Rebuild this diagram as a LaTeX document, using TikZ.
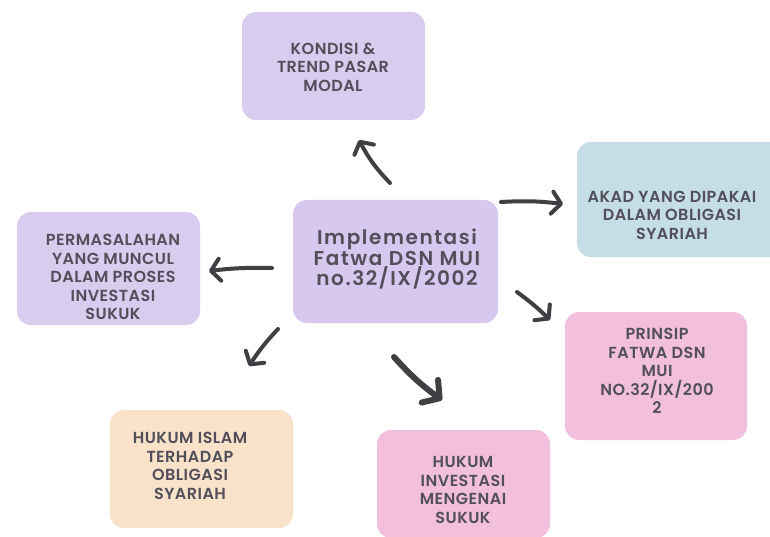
\documentclass[tikz,border=0pt]{standalone}
\usepackage{fontspec}
\setmainfont{Poppins}[UprightFont=* SemiBold, LetterSpace=3]
\newfontfamily\ctrfont{Poppins}[UprightFont=* SemiBold, LetterSpace=8]
\usetikzlibrary{arrows.meta}
\definecolor{lav}{HTML}{D8CCEF}
\definecolor{lavc}{HTML}{D6C8EE}
\definecolor{skyb}{HTML}{C4DDE6}
\definecolor{pinkb}{HTML}{F2BFDC}
\definecolor{peach}{HTML}{F9E2CA}
\definecolor{ink}{HTML}{524F5A}
\definecolor{arrink}{HTML}{3F3F44}
\begin{document}
\begin{tikzpicture}[x=1pt,y=-1pt,
  box/.style={rounded corners=14pt, inner sep=0pt, draw=none},
  txt/.style={align=center, text=ink, inner sep=0pt, font=\fontsize{16}{18.5}\selectfont},
  ctxt/.style={align=center, text=ink, inner sep=0pt, font=\ctrfont\fontsize{20}{20.5}\selectfont},
  arr/.style={draw=arrink, line width=4pt, line cap=round,
    -{Straight Barb[length=9pt,width=22pt,round]}},
  bigarr/.style={draw=arrink, line width=6pt, line cap=round,
    -{Straight Barb[length=12pt,width=28pt,round]}}]
\useasboundingbox (0,0) rectangle (770,537);
\fill[white] (0,0) rectangle (770,537);
% boxes
\node[box, fill=lav, minimum width=183pt, minimum height=108pt] (b1) at (333.5,66) {};
\node[box, fill=lavc, minimum width=205pt, minimum height=123pt] (bc) at (395.5,261.5) {};
\node[box, fill=skyb, minimum width=210pt, minimum height=115pt] (b2) at (682,199.5) {};
\node[box, fill=lav, minimum width=183pt, minimum height=113pt] (b3) at (108.5,268.5) {};
\node[box, fill=pinkb, minimum width=182pt, minimum height=128pt] (b4) at (656,376) {};
\node[box, fill=peach, minimum width=183pt, minimum height=118pt] (b5) at (201.5,469) {};
\node[box, fill=pinkb, minimum width=173pt, minimum height=108pt] (b6) at (463.5,484) {};
% texts
\node[txt] (t1) at (333,67) {KONDISI \&\\TREND PASAR\\MODAL};
\node[ctxt] (tc) at (397,259) {Implementasi\\Fatwa DSN MUI\\no.32/IX/2002};
\node[txt] (t2) at (672,215) {AKAD YANG DIPAKAI\\DALAM OBLIGASI\\SYARIAH};
\node[txt] (t3) at (113,277) {PERMASALAHAN\\YANG MUNCUL\\DALAM PROSES\\INVESTASI\\SUKUK};
\node[txt] (t4) at (657,371) {PRINSIP\\FATWA DSN\\MUI\\NO.32/IX/200\\2};
\node[txt] (t5) at (190,466) {HUKUM ISLAM\\TERHADAP\\OBLIGASI\\SYARIAH};
\node[txt] (t6) at (463,490) {HUKUM\\INVESTASI\\MENGENAI\\SUKUK};
% arrow end points
\coordinate (a1s) at (390,183); \coordinate (a1e) at (359,140);
\coordinate (a2s) at (501,202); \coordinate (a2e) at (563,204);
\coordinate (a3s) at (272,268); \coordinate (a3e) at (209,271);
\coordinate (a4s) at (517,292); \coordinate (a4e) at (550,320);
\coordinate (a5s) at (278,329); \coordinate (a5e) at (249,366);
\coordinate (a6s) at (394,357); \coordinate (a6e) at (442,400);
% arrows
\draw[arr] (a1s) to[bend left=8] (a1e);
\draw[arr] (a2s) to[bend left=5] (a2e);
\draw[arr] (a3s) to[bend right=4] (a3e);
\draw[arr] (a4s) to[bend left=4] (a4e);
\draw[arr] (a5s) to[bend right=5] (a5e);
\draw[bigarr] (a6s) to[bend right=6] (a6e);
\end{tikzpicture}
\end{document}
